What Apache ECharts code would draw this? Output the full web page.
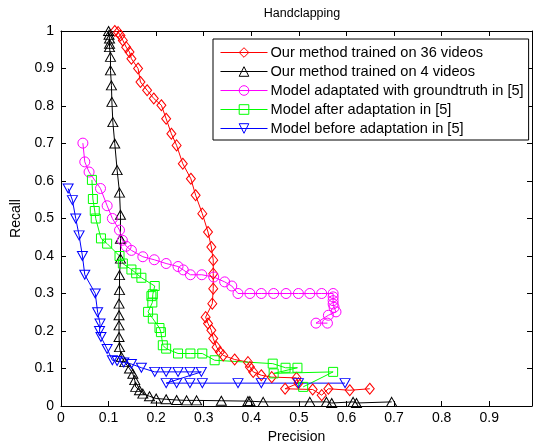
<!DOCTYPE html>
<html>
<head>
<meta charset="utf-8">
<script src="https://cdn.jsdelivr.net/npm/echarts@6/dist/echarts.min.js"></script>
<style>
  html, body { margin: 0; padding: 0; background: #fff; }
  #chart { width: 533px; height: 447px; }
</style>
</head>
<body>
<div id="chart"></div>
<script>
// Precision / recall curves for the handclapping action
const xTickLabels = ['0', '0.1', '0.2', '0.3', '0.4', '0.5', '0.6', '0.7', '0.8', '0.9'];
const yTickLabels = ['0', '0.1', '0.2', '0.3', '0.4', '0.5', '0.6', '0.7', '0.8', '0.9', '1'];

const seriesNames = [
  'Our method trained on 36 videos',
  'Our method trained on 4 videos',
  'Model adaptated with groundtruth in [5]',
  'Model after adaptation in [5]',
  'Model before adaptation in [5]'
];

// Our method, 36 training videos
const ours36Precision = [0.113, 0.120, 0.125, 0.130, 0.137, 0.144, 0.148, 0.162, 0.167, 0.181, 0.195, 0.211, 0.221, 0.232, 0.243, 0.256, 0.273, 0.283, 0.297, 0.309, 0.316, 0.320, 0.320, 0.320, 0.318, 0.304, 0.309, 0.316, 0.320, 0.327, 0.334, 0.341, 0.365, 0.393, 0.397, 0.404, 0.421, 0.443, 0.495, 0.499, 0.471, 0.529, 0.548, 0.562, 0.607, 0.649];
const ours36Recall    = [1.000, 0.997, 0.988, 0.975, 0.957, 0.944, 0.926, 0.900, 0.864, 0.842, 0.820, 0.802, 0.766, 0.726, 0.695, 0.646, 0.606, 0.562, 0.513, 0.464, 0.424, 0.389, 0.353, 0.313, 0.273, 0.237, 0.220, 0.202, 0.180, 0.157, 0.144, 0.135, 0.124, 0.117, 0.104, 0.091, 0.082, 0.077, 0.075, 0.061, 0.046, 0.044, 0.029, 0.046, 0.042, 0.046];

// Our method, 4 training videos
const ours4Precision = [0.100, 0.101, 0.102, 0.102, 0.102, 0.104, 0.104, 0.106, 0.107, 0.109, 0.113, 0.118, 0.123, 0.125, 0.125, 0.125, 0.123, 0.123, 0.122, 0.122, 0.122, 0.122, 0.123, 0.127, 0.134, 0.144, 0.151, 0.155, 0.157, 0.165, 0.172, 0.186, 0.200, 0.221, 0.243, 0.264, 0.285, 0.337, 0.393, 0.397, 0.425, 0.523, 0.558, 0.569, 0.614, 0.621, 0.695];
const ours4Recall    = [1.000, 0.990, 0.980, 0.966, 0.957, 0.931, 0.895, 0.855, 0.811, 0.757, 0.700, 0.629, 0.569, 0.510, 0.446, 0.393, 0.349, 0.309, 0.273, 0.242, 0.215, 0.184, 0.157, 0.131, 0.117, 0.100, 0.086, 0.069, 0.051, 0.042, 0.033, 0.026, 0.020, 0.018, 0.016, 0.015, 0.015, 0.014, 0.013, 0.013, 0.011, 0.011, 0.011, 0.008, 0.011, 0.008, 0.011];

// [5], adapted with ground truth
const gtPrecision = [0.046, 0.050, 0.059, 0.083, 0.097, 0.108, 0.123, 0.129, 0.137, 0.148, 0.172, 0.196, 0.221, 0.246, 0.257, 0.272, 0.296, 0.321, 0.344, 0.359, 0.372, 0.397, 0.421, 0.447, 0.473, 0.499, 0.523, 0.548, 0.572, 0.572, 0.572, 0.572, 0.574, 0.578, 0.562, 0.536, 0.560];
const gtRecall    = [0.701, 0.651, 0.624, 0.580, 0.534, 0.500, 0.469, 0.442, 0.426, 0.415, 0.398, 0.390, 0.380, 0.372, 0.363, 0.350, 0.350, 0.344, 0.331, 0.320, 0.300, 0.300, 0.300, 0.300, 0.300, 0.300, 0.300, 0.300, 0.300, 0.291, 0.281, 0.272, 0.263, 0.251, 0.242, 0.221, 0.221];

// [5], after adaptation
const afterPrecision = [0.065, 0.067, 0.071, 0.073, 0.084, 0.097, 0.123, 0.130, 0.148, 0.158, 0.169, 0.197, 0.193, 0.190, 0.192, 0.183, 0.193, 0.207, 0.210, 0.214, 0.221, 0.246, 0.272, 0.297, 0.323, 0.445, 0.472, 0.497, 0.447, 0.572, 0.509];
const afterRecall    = [0.603, 0.552, 0.520, 0.500, 0.447, 0.433, 0.400, 0.380, 0.364, 0.354, 0.342, 0.320, 0.298, 0.293, 0.276, 0.251, 0.233, 0.208, 0.197, 0.162, 0.153, 0.140, 0.140, 0.140, 0.122, 0.113, 0.102, 0.102, 0.087, 0.091, 0.051];

// [5], before adaptation
const beforePrecision = [0.015, 0.024, 0.031, 0.038, 0.045, 0.050, 0.072, 0.077, 0.082, 0.081, 0.084, 0.097, 0.108, 0.118, 0.132, 0.148, 0.169, 0.197, 0.221, 0.246, 0.271, 0.295, 0.221, 0.243, 0.271, 0.297, 0.372, 0.421, 0.499, 0.597];
const beforeRecall    = [0.580, 0.549, 0.500, 0.455, 0.400, 0.350, 0.300, 0.250, 0.220, 0.200, 0.184, 0.152, 0.122, 0.120, 0.116, 0.112, 0.102, 0.091, 0.091, 0.091, 0.091, 0.091, 0.061, 0.061, 0.061, 0.061, 0.061, 0.061, 0.061, 0.061];

const FONT = '"Liberation Sans", Arial, Helvetica, sans-serif';

function zip(xs, ys) { return xs.map((x, i) => [x, ys[i]]); }

function curve(name, xs, ys, color, symbol, size, rotate) {
  return {
    name: name,
    type: 'line',
    data: zip(xs, ys),
    symbol: symbol,
    symbolSize: size,
    symbolRotate: rotate || 0,
    showAllSymbol: true,
    animation: false,
    lineStyle: { color: color, width: 1 },
    itemStyle: { color: 'rgba(255,255,255,0)', borderColor: color, borderWidth: 1 },
    emphasis: { disabled: true }
  };
}

function tickFormatter(labels) {
  return function (v) {
    const i = Math.round(v * 10);
    return Math.abs(v * 10 - i) < 1e-6 && labels[i] !== undefined ? labels[i] : '';
  };
}

const axisCommon = {
  type: 'value',
  axisLine: { show: true, onZero: false, lineStyle: { color: '#000', width: 1 } },
  axisTick: { show: true, inside: true, length: 5, lineStyle: { color: '#000' } },
  splitLine: { show: false },
  interval: 0.1,
  min: 0
};

const chart = echarts.init(document.getElementById('chart'), null, { renderer: 'canvas' });
chart.setOption({
  backgroundColor: '#fff',
  animation: false,
  textStyle: { fontFamily: FONT },
  title: {
    text: 'Handclapping',
    left: 297,
    top: 2,
    textAlign: 'center',
    textStyle: { fontFamily: FONT, fontSize: 12.5, fontWeight: 'normal', color: '#000' }
  },
  grid: { left: 61, right: 1, top: 31, bottom: 41, containLabel: false, outerBoundsMode: 'none' },
  legend: {
    orient: 'vertical',
    left: 213,
    top: 39,
    padding: [6, 5, 4, 7],
    itemGap: 4,
    itemWidth: 47,
    itemHeight: 12,
    backgroundColor: '#fff',
    borderColor: '#000',
    borderWidth: 1,
    borderRadius: 0,
    selectedMode: false,
    data: seriesNames,
    lineStyle: { width: 1 },
    itemStyle: { borderWidth: 1 },
    textStyle: { fontFamily: FONT, fontSize: 14.6, color: '#000', padding: [0, 0, 0, -2] }
  },
  xAxis: [
    Object.assign({}, axisCommon, {
      max: 0.99,
      position: 'bottom',
      name: 'Precision',
      nameLocation: 'middle',
      nameGap: 24,
      nameTextStyle: { fontFamily: FONT, fontSize: 14, color: '#000' },
      axisLabel: { show: true, color: '#000', fontFamily: FONT, fontSize: 14, margin: 5, showMaxLabel: false, formatter: tickFormatter(xTickLabels) }
    }),
    Object.assign({}, axisCommon, {
      max: 0.99,
      position: 'top',
      axisLabel: { show: false }
    })
  ],
  yAxis: [
    Object.assign({}, axisCommon, {
      max: 1,
      position: 'left',
      name: 'Recall',
      nameLocation: 'middle',
      nameGap: 31,
      nameTextStyle: { fontFamily: FONT, fontSize: 14, color: '#000' },
      axisLabel: { show: true, color: '#000', fontFamily: FONT, fontSize: 14, margin: 7, formatter: tickFormatter(yTickLabels) }
    }),
    Object.assign({}, axisCommon, {
      max: 1,
      position: 'right',
      axisLabel: { show: false }
    })
  ],
  series: [
    curve(seriesNames[0], ours36Precision, ours36Recall, '#ff0000', 'diamond', [9, 11]),
    curve(seriesNames[1], ours4Precision, ours4Recall, '#000000', 'triangle', [10, 9]),
    curve(seriesNames[2], gtPrecision, gtRecall, '#ff00ff', 'circle', 10),
    curve(seriesNames[3], afterPrecision, afterRecall, '#00ff00', 'rect', 9),
    curve(seriesNames[4], beforePrecision, beforeRecall, '#0000ff', 'triangle', [10, 9], 180)
  ]
});
</script>
</body>
</html>
